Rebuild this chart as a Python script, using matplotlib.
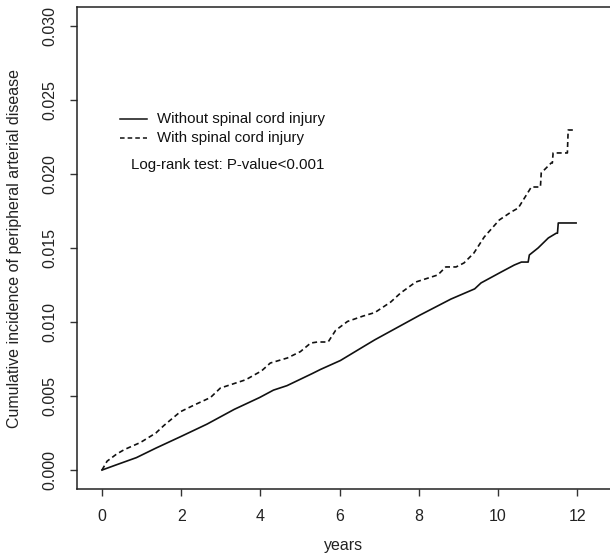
import matplotlib
matplotlib.use("Agg")
import matplotlib.pyplot as plt

# without spinal cord injury (solid)
years_without = [0.0, 0.37, 0.87, 1.36, 1.98, 2.65, 3.34, 3.98, 4.33, 4.67, 5.31, 5.52,
                 6.02, 6.64, 6.89, 8.03, 8.81, 9.41, 9.57, 10.08, 10.41, 10.59, 10.76,
                 10.79, 11.01, 11.27, 11.47, 11.5, 11.52, 11.97]
inc_without = [0.0, 0.00036, 0.00084, 0.00148, 0.00225, 0.0031, 0.0041, 0.0049, 0.0054,
               0.0057, 0.00652, 0.0068, 0.0074, 0.0084, 0.0088, 0.01047, 0.01155,
               0.01224, 0.01264, 0.01338, 0.01385, 0.01405, 0.01405, 0.01453, 0.015,
               0.01568, 0.016, 0.016, 0.01669, 0.01669]

# with spinal cord injury (dashed)
years_with = [0.0, 0.13, 0.37, 0.57, 0.97, 1.36, 1.56, 1.98, 2.35, 2.74, 2.99, 3.63,
              4.03, 4.25, 4.68, 5.01, 5.27, 5.44, 5.71, 5.9, 6.2, 6.59, 6.89, 7.29,
              7.54, 7.92, 8.48, 8.68, 8.94, 9.14, 9.39, 9.65, 10.03, 10.33, 10.51,
              10.84, 11.07, 11.09, 11.34, 11.37, 11.39, 11.75, 11.77, 11.92]
inc_with = [0.0, 0.0006, 0.00108, 0.00139, 0.00186, 0.0025, 0.003, 0.00394, 0.00442,
            0.0049, 0.00554, 0.0061, 0.0067, 0.00723, 0.00757, 0.008, 0.00858, 0.00865,
            0.00865, 0.00944, 0.01004, 0.0104, 0.01064, 0.01135, 0.01196, 0.0127,
            0.01318, 0.01372, 0.01372, 0.01399, 0.01466, 0.01574, 0.01689, 0.01743,
            0.0177, 0.01912, 0.01912, 0.02007, 0.02074, 0.02074, 0.02142, 0.02142,
            0.02297, 0.02297]

plt.rcParams['font.family'] = ['Liberation Sans', 'DejaVu Sans']

fig = plt.figure(figsize=(6.1, 5.54), dpi=100)
ax = fig.add_axes([0.1262, 0.1173, 0.8760, 0.8701])

ax.plot(years_without, inc_without, color='#111111', lw=1.2)
ax.plot(years_with, inc_with, color='#111111', lw=1.2, dashes=(3.0, 2.0))

ax.set_xlim(-0.63, 12.86)
ax.set_ylim(-0.00128, 0.03128)
ax.set_xticks(range(0, 13, 2))
ax.set_yticks([0.0, 0.005, 0.010, 0.015, 0.020, 0.025, 0.030])
ax.set_yticklabels(['0.000', '0.005', '0.010', '0.015', '0.020', '0.025', '0.030'],
                   rotation=90, va='center')
ax.tick_params(axis='both', labelsize=11.5, length=5, width=1, color='#333333',
               labelcolor='#222222')
ax.tick_params(axis='x', pad=9.5)
ax.tick_params(axis='y', pad=9)
for s in ax.spines.values():
    s.set_linewidth(1.1)
    s.set_color('#222222')

fig.text(0.5631, 0.0162, 'years', ha='center', va='center', fontsize=11.5, color='#222222')
fig.text(0.023, 0.5523, 'Cumulative incidence of peripheral arterial disease',
         rotation=90, ha='center', va='center', fontsize=11.5, color='#222222')

# legend drawn manually to mimic the R layout
ax.plot([0.45, 1.15], [0.0237, 0.0237], color='#111111', lw=1.1)
ax.plot([0.45, 1.15], [0.02241, 0.02241], color='#111111', lw=1.1, dashes=(3.0, 2.0))
ax.text(1.4, 0.0237, 'Without spinal cord injury', fontsize=10.8, va='center',
        color='#111111')
ax.text(1.4, 0.02241, 'With spinal cord injury', fontsize=10.8, va='center',
        color='#111111')
ax.text(0.74, 0.02063, 'Log-rank test: P-value<0.001', fontsize=10.8, va='center',
        color='#111111')

fig.savefig('out.png', dpi=100)
